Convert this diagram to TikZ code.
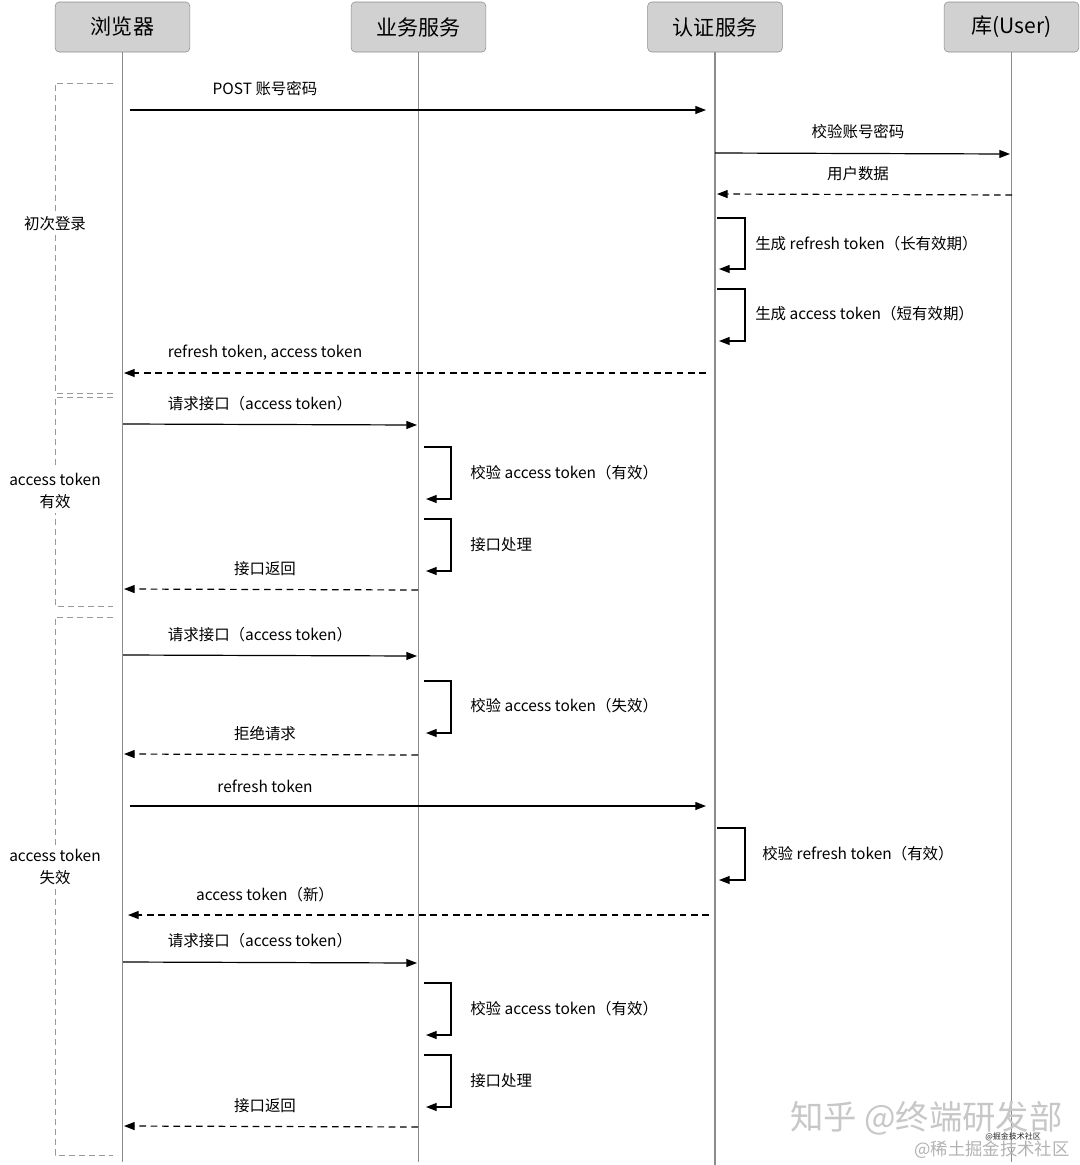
\documentclass[tikz,border=0pt]{standalone}
\usepackage{fontspec}
\setmainfont{Noto Sans CJK SC}
\usetikzlibrary{arrows.meta}
\begin{document}
\begin{tikzpicture}[x=0.75pt,y=-0.75pt,
 actor/.style={draw=black!45, fill=black!18, rounded corners=3pt, minimum width=101pt, minimum height=37.5pt, font=\fontsize{15.8pt}{18pt}\selectfont, inner sep=0},
 life/.style={draw=black!45, line width=0.8pt},
 msg/.style={draw=black, line width=0.9pt, -{Triangle[length=8pt,width=6pt]}},
 ret/.style={msg, dash pattern=on 5pt off 3.5pt},
 lbl/.style={font=\fontsize{11.6pt}{16.5pt}\selectfont, inner sep=0},
 grp/.style={draw=black!40, line width=0.6pt, dash pattern=on 4.5pt off 3pt},
 grplbl/.style={lbl, fill=white, align=center, inner sep=3pt},
]
\useasboundingbox (0,0) rectangle (1080,1165);

% actors
\node[actor] (b) at (122.5,27) {浏览器};
\node[actor] (s) at (418.5,27) {业务服务};
\node[actor] (a) at (715,27) {认证服务};
\node[actor] (u) at (1011.5,27) {库(User)};
\coordinate (bend) at (122.5,1162);
\coordinate (send) at (418.5,1162);
\coordinate (aend) at (715,1165);
\coordinate (uend) at (1011.5,1162);
\draw[life] (b) -- (bend);
\draw[life] (s) -- (send);
\draw[life] (a) -- (aend);
\draw[life] (u) -- (uend);

% groups
\draw[grp] (113,83) -- (55,83) -- (55,393) -- (113,393);
\node[grplbl] (g1) at (55,224) {初次登录};
\draw[grp] (113,397) -- (55,397) -- (55,606) -- (113,606);
\node[grplbl] (g2) at (55,491) {access token\\有效};
\draw[grp] (113,617) -- (55,617) -- (55,1155) -- (113,1155);
\node[grplbl] (g3) at (55,867) {access token\\失效};

% phase 1
\draw[msg] (130,110) -- (706,110);
\node[lbl] (m1) at (265,89) {POST 账号密码};
\draw[msg] (715,153) -- (1010,154);
\node[lbl] (m2) at (858,132) {校验账号密码};
\draw[ret] (1012,195) -- (717,194);
\node[lbl] (m3) at (858,174) {用户数据};
\draw[msg] (717,218) -- (745,218) -- (745,269) -- (719,269);
\node[lbl, anchor=west] (m4) at (755,244) {生成 refresh token（长有效期）};
\draw[msg] (717,289) -- (745,289) -- (745,341) -- (719,341);
\node[lbl, anchor=west] (m5) at (755,314) {生成 access token（短有效期）};
\draw[ret] (706,373) -- (124,373);
\node[lbl] (m6) at (265,353) {refresh token, access token};

% phase 2
\draw[msg] (123,424) -- (417,425);
\node[lbl] (m7) at (260,404) {请求接口（access token）};
\draw[msg] (424,447) -- (451,447) -- (451,499) -- (426,499);
\node[lbl, anchor=west] (m8) at (470,473) {校验 access token（有效）};
\draw[msg] (424,519) -- (451,519) -- (451,571) -- (426,571);
\node[lbl, anchor=west] (m9) at (470,545) {接口处理};
\draw[ret] (418,590) -- (124,589);
\node[lbl] (m10) at (265,569) {接口返回};

% phase 3
\draw[msg] (123,655) -- (417,656);
\node[lbl] (m11) at (260,635) {请求接口（access token）};
\draw[msg] (424,681) -- (451,681) -- (451,733) -- (426,733);
\node[lbl, anchor=west] (m12) at (470,706) {校验 access token（失效）};
\draw[ret] (418,755) -- (124,754);
\node[lbl] (m13) at (265,734) {拒绝请求};
\draw[msg] (130,806) -- (706,806);
\node[lbl] (m14) at (265,786) {refresh token};
\draw[msg] (717,828) -- (745,828) -- (745,880) -- (719,880);
\node[lbl, anchor=west] (m15) at (762,854) {校验 refresh token（有效）};
\draw[ret] (709,915) -- (128,915);
\node[lbl] (m16) at (265,895) {access token（新）};
\draw[msg] (123,962) -- (417,963);
\node[lbl] (m17) at (260,941) {请求接口（access token）};
\draw[msg] (424,983) -- (451,983) -- (451,1035) -- (426,1035);
\node[lbl, anchor=west] (m18) at (470,1009) {校验 access token（有效）};
\draw[msg] (424,1055) -- (451,1055) -- (451,1107) -- (426,1107);
\node[lbl, anchor=west] (m19) at (470,1081) {接口处理};
\draw[ret] (418,1127) -- (124,1126);
\node[lbl] (m20) at (265,1106) {接口返回};

% watermark
\node[anchor=west, inner sep=0, text=black!22, font=\fontsize{25pt}{28pt}\selectfont] (w1) at (790,1118) {知乎 @终端研发部};
\node[anchor=west, inner sep=0, text=black!30, font=\fontsize{13pt}{15pt}\selectfont] (w2) at (914,1150) {@稀土掘金技术社区};
\node[anchor=west, inner sep=0, text=black!85, font=\fontsize{6pt}{7pt}\selectfont] (w3) at (985,1137) {@掘金技术社区};
\end{tikzpicture}
\end{document}
